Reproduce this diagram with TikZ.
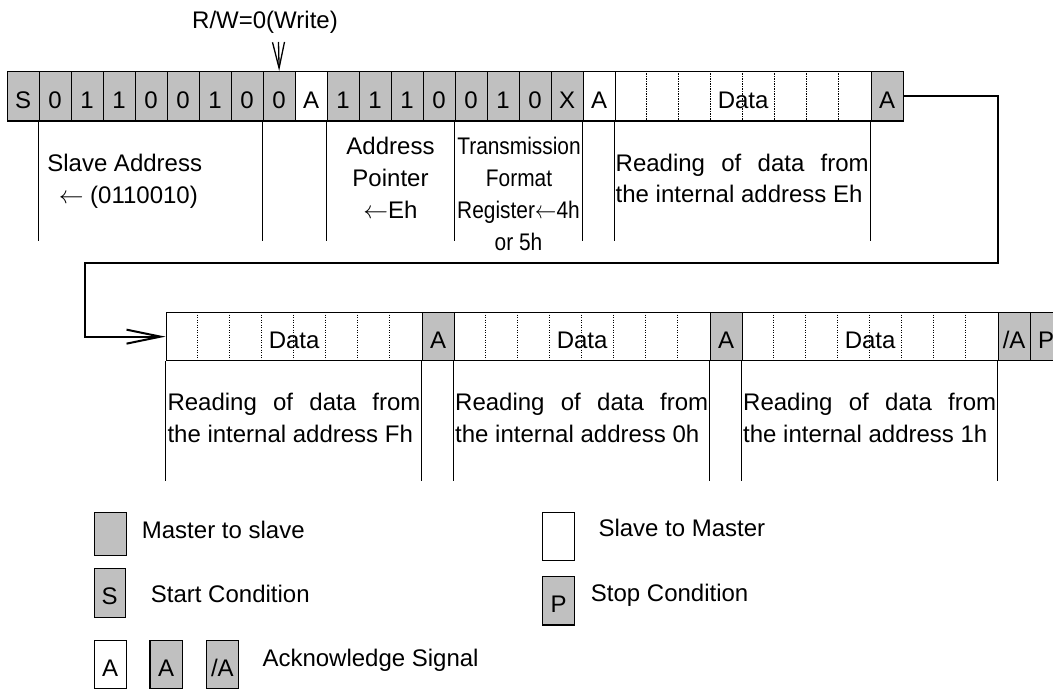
\documentclass[tikz,border=0pt]{standalone}
\usepackage{fontspec}
\usepackage{graphicx}
\setmainfont{Liberation Sans}
\usetikzlibrary{arrows.meta}
\definecolor{mgray}{HTML}{C0C0C0}
\newcommand{\mfs}{\fontsize{24bp}{31.7bp}\selectfont}
\newcommand{\larr}{$\leftarrow$}
\tikzset{
  cell/.style={rectangle, draw=black, line width=1.3bp, minimum width=32bp,
    inner sep=0pt, anchor=north west, text height=24bp, text depth=0bp, font=\mfs},
  rowa/.style={cell, minimum height=49.5bp},
  rowb/.style={cell, minimum height=48bp},
  datafield/.style={minimum width=256bp, fill=white},
  dots/.style={line width=1.1bp, dash pattern=on 1.1bp off 1.4bp},
  divider/.style={line width=1.3bp},
  conn/.style={line width=2bp},
  lbl/.style={inner sep=0pt, anchor=base, font=\mfs},
  lblw/.style={inner sep=0pt, anchor=base west, font=\mfs},
  legbox/.style={rectangle, draw=black, line width=1.3bp, inner sep=0pt,
    anchor=north west, text height=24bp, text depth=0bp, font=\mfs}
}
\begin{document}
\begin{tikzpicture}[x=1bp,y=-1bp]
\useasboundingbox (0,0) rectangle (1053,689);
\clip (0,0) rectangle (1053,689);
\fill[white] (0,0) rectangle (1053,689);

% ---- first row ----
\foreach \k/\t/\f in {0/S/mgray,1/0/mgray,2/1/mgray,3/1/mgray,4/0/mgray,5/0/mgray,
  6/1/mgray,7/0/mgray,8/0/mgray,9/A/white,10/1/mgray,11/1/mgray,12/1/mgray,
  13/0/mgray,14/0/mgray,15/1/mgray,16/0/mgray,17/X/mgray,18/A/white}
  \node[rowa, fill=\f] (a\k) at ({6.5+32*\k},71) {\t};
\node[rowa, datafield] (d1) at (614.5,71) {Data\hspace{8bp}};
\node[rowa, fill=mgray] (a27) at (870.5,71) {A};
\foreach \i in {1,...,7}
  \draw[dots] ([xshift=32*\i bp]d1.north west) -- ([xshift=32*\i bp]d1.south west);

% dividers row 1
\foreach \n in {a1,a8,a10,a14,a18,d1,a27}
  \draw[divider] (\n.south west) -- ++(0,119.5);

% R/W label and arrow
\node[lbl] (rw) at (265,28.5) {R/W=0(Write)};
\coordinate (rwtop) at (278.5,42);
\draw[line width=1.3bp, -{Straight Barb[length=26bp,width=12bp]}] (rwtop) -- (a8.north);

% labels row 1
\node[lbl] (sa1) at (124.7,171.7) {Slave Address};
\node[lbl] (sa2) at (128.3,203.3) {\larr{} (0110010)};
\node[lbl] (ap1) at (390.5,155) {Address};
\node[lbl] (ap2) at (390.5,186.7) {Pointer};
\node[lbl] (ap3) at (390.5,218.3) {\larr{}Eh};
\node[lbl] (tf1) at (519,155) {\scalebox{0.87}[1]{Transmission}};
\node[lbl] (tf2) at (519,186.7) {\scalebox{0.87}[1]{Format}};
\node[lbl] (tf3) at (518.5,218.3) {\scalebox{0.87}[1]{Register\larr{}4h}};
\node[lbl] (tf4) at (518.5,250) {\scalebox{0.87}[1]{or 5h}};
\node[lblw] (re1) at (615.5,171.7) {\makebox[253bp][s]{Reading of data from}};
\node[lblw] (re2) at (615.5,202.7) {the internal address Eh};

% ---- second row ----
\node[rowb, datafield] (b0) at (165.5,312) {Data\hspace{8bp}};
\node[rowb, fill=mgray] (b1) at (421.5,312) {A};
\node[rowb, datafield] (b2) at (453.5,312) {Data\hspace{8bp}};
\node[rowb, fill=mgray] (b3) at (709.5,312) {A};
\node[rowb, datafield] (b4) at (741.5,312) {Data\hspace{8bp}};
\node[rowb, fill=mgray] (b5) at (997.5,312) {/A};
\node[rowb, fill=mgray] (b6) at (1029.5,312) {P};
\foreach \n in {b0,b2,b4}
  \foreach \i in {1,...,7}
    \draw[dots] ([xshift=32*\i bp]\n.north west) -- ([xshift=32*\i bp]\n.south west);
\foreach \n in {b0,b1,b2,b3,b4,b5}
  \draw[divider] (\n.south west) -- ++(0,120);

\node[lblw] (rf1) at (167.3,410) {\makebox[253bp][s]{Reading of data from}};
\node[lblw] (rf2) at (167.3,442.7) {the internal address Fh};
\node[lblw] (r01) at (455,410) {\makebox[253bp][s]{Reading of data from}};
\node[lblw] (r02) at (455,442.7) {the internal address 0h};
\node[lblw] (r11) at (743,410) {\makebox[253bp][s]{Reading of data from}};
\node[lblw] (r12) at (743,442.7) {the internal address 1h};

% ---- connector ----
\coordinate (c1) at (997.5,263);
\coordinate (c2) at (85,263);
\draw[conn, -{Straight Barb[length=34bp,width=14bp]}] (a27.east) -| (c1) -- (c2) |- (b0.west);

% ---- legend ----
\node[legbox, fill=mgray, minimum width=32.5bp, minimum height=43.3bp] (lg1) at (93.5,511.7) {};
\node[lblw] (lt1) at (141.7,538.5) {Master to slave};
\node[legbox, fill=mgray, minimum width=31bp, minimum height=49bp] (lg2) at (93.5,567.7) {S};
\node[lblw] (lt2) at (150.7,602.5) {Start Condition};
\node[legbox, fill=white, minimum width=32.2bp, minimum height=48bp] (lg3) at (93.5,640) {A};
\node[legbox, fill=mgray, minimum width=32.4bp, minimum height=48bp] (lg4) at (149.3,640) {A};
\node[legbox, fill=mgray, minimum width=32bp, minimum height=48bp] (lg5) at (205.7,640) {/A};
\node[lblw] (lt3) at (262.3,666.7) {Acknowledge Signal};
\node[legbox, fill=white, minimum width=32.3bp, minimum height=48.3bp] (lg6) at (541.7,511.7) {};
\node[lblw] (lt4) at (598.3,536.7) {Slave to Master};
\node[legbox, fill=mgray, minimum width=32.3bp, minimum height=48.3bp] (lg7) at (541.7,576) {P};
\node[lblw] (lt5) at (590.7,601) {Stop Condition};
\end{tikzpicture}
\end{document}
